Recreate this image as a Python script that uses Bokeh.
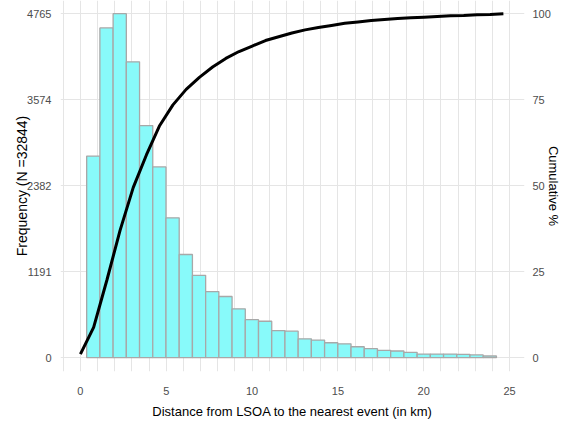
from bokeh.plotting import figure
from bokeh.models import Range1d, LinearAxis, FixedTicker
from bokeh.embed import file_html
from bokeh.resources import INLINE

# Histogram: bin centres (km) and counts
bin_centers = [0.75, 1.52, 2.29, 3.06, 3.83, 4.60, 5.37, 6.14, 6.91, 7.68,
               8.45, 9.22, 9.99, 10.76, 11.53, 12.30, 13.07, 13.84, 14.61, 15.38,
               16.15, 16.92, 17.69, 18.46, 19.23, 20.00, 20.77, 21.54, 22.31, 23.08, 23.85]
counts = [2793, 4568, 4765, 4098, 3215, 2642, 1937, 1429, 1140, 916,
          847, 677, 526, 504, 375, 366, 261, 243, 206, 192,
          151, 124, 101, 92, 73, 50, 50, 50, 45, 37, 23]
bin_width = 0.77

# Cumulative percentage curve
cum_x = [0, 0.77, 1.54, 2.31, 3.08, 3.85, 4.62, 5.39, 6.16, 6.93, 7.70, 8.47, 9.24,
         10.01, 10.78, 11.55, 12.32, 13.09, 13.86, 14.63, 15.40, 16.17, 16.94, 17.71,
         18.48, 19.25, 20.02, 20.79, 21.56, 22.33, 23.10, 23.87, 24.64]
cum_pct = [1.0, 8.8, 22.5, 37.0, 49.5, 59.0, 67.5, 73.5, 78.0, 81.5, 84.5, 87.0, 89.0,
           90.6, 92.2, 93.3, 94.4, 95.3, 96.0, 96.6, 97.2, 97.6, 98.0, 98.3,
           98.6, 98.8, 99.0, 99.2, 99.4, 99.5, 99.7, 99.8, 100.0]

x_ticks = [0, 5, 10, 15, 20, 25]
freq_ticks = [0, 1191, 2382, 3574, 4765]
pct_ticks = [0, 25, 50, 75, 100]
x_grid_ticks = list(range(-1, 27))

FONT = "Liberation Sans"
TICK_COLOR = "#4d4d4d"
GRID_COLOR = "#e5e5e5"

p = figure(width=563, height=421, output_backend="svg", toolbar_location=None,
           x_range=Range1d(-1.16, 25.87), y_range=Range1d(-192, 4948),
           min_border_left=60, min_border_right=0, min_border_top=0,
           min_border_bottom=6)
p.outline_line_color = None
p.background_fill_color = "white"
p.border_fill_color = "white"

p.extra_y_ranges = {"pct": Range1d(-192 / 47.65, 4948 / 47.65)}

# grids
p.xgrid.ticker = FixedTicker(ticks=x_grid_ticks)
p.xgrid.grid_line_color = GRID_COLOR
p.xgrid.grid_line_width = 1
p.ygrid.grid_line_color = GRID_COLOR
p.ygrid.grid_line_width = 1

# bars
p.vbar(x=bin_centers, top=counts, bottom=0, width=bin_width,
       fill_color="#88fafa", line_color="#a8a8a8", line_width=1.3)

# cumulative line
p.line(cum_x, cum_pct, y_range_name="pct", line_color="black", line_width=3)

def style_axis(ax):
    ax.axis_line_color = None
    ax.major_tick_line_color = None
    ax.minor_tick_line_color = None
    ax.major_label_text_font = FONT
    ax.major_label_text_font_size = "11px"
    ax.major_label_text_color = TICK_COLOR
    ax.axis_label_text_font = FONT
    ax.axis_label_text_font_style = "normal"
    ax.axis_label_text_color = "black"

xa = p.xaxis[0]
xa.ticker = FixedTicker(ticks=x_ticks)
style_axis(xa)
xa.major_label_standoff = 9
xa.axis_label = "Distance from LSOA to the nearest event (in km)"
xa.axis_label_text_font_size = "13px"
xa.axis_label_standoff = 6

ya = p.yaxis[0]
ya.ticker = FixedTicker(ticks=freq_ticks)
style_axis(ya)
ya.major_label_standoff = 3
ya.axis_label = "Frequency (N =32844)"
ya.axis_label_text_font_size = "14px"
ya.axis_label_standoff = -6

ra = LinearAxis(y_range_name="pct", ticker=FixedTicker(ticks=pct_ticks))
style_axis(ra)
ra.major_label_standoff = 2
ra.axis_label = "Cumulative %"
ra.axis_label_text_font_size = "13px"
ra.axis_label_standoff = -8
p.add_layout(ra, "right")

open("out.html", "w").write(file_html(p, INLINE))
